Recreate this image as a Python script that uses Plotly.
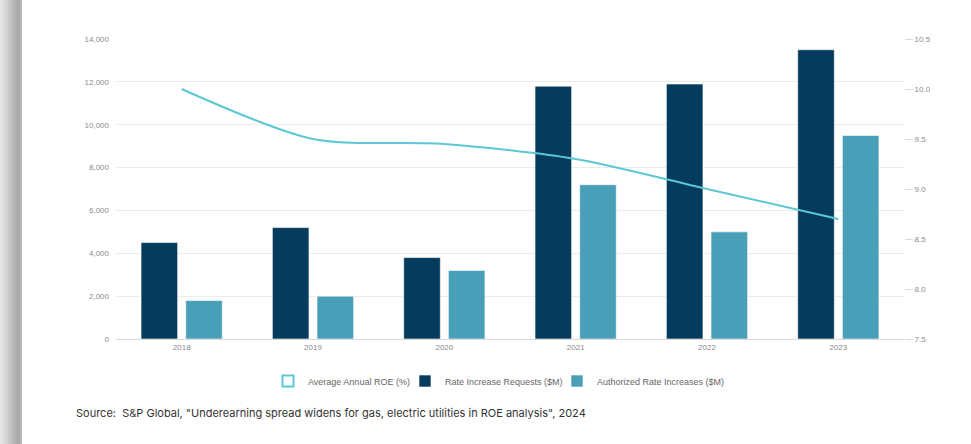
import plotly.graph_objects as go

# Data
years = ["2018", "2019", "2020", "2021", "2022", "2023"]
rate_requests = [4500, 5200, 3800, 11800, 11900, 13500]      # $M
authorized_increases = [1800, 2000, 3200, 7200, 5000, 9500]  # $M
avg_roe = [10.0, 9.5, 9.45, 9.3, 9.0, 8.7]                   # %

left_ticks = [0, 2000, 4000, 6000, 8000, 10000, 12000, 14000]
right_ticks = [7.5, 8.0, 8.5, 9.0, 9.5, 10.0, 10.5]

W, H = 971, 444
ML, MR, MT, MB = 116, 67, 39, 105
PW, PH = W - ML - MR, H - MT - MB


def px_x(p):
    return (p - ML) / PW


def px_y(p):
    return (H - MB - p) / PH


DARK = "#053b5c"
LIGHT = "#4a9fb8"
CYAN = "#5cc7d5"
TICK_FONT = dict(family="Liberation Sans, Arial, sans-serif", size=8, color="#8a8a8a")
LEGEND_FONT = dict(family="Liberation Sans, Arial, sans-serif", size=9, color="#666666")

fig = go.Figure()

fig.add_trace(go.Bar(
    x=years, y=rate_requests, name="Rate Increase Requests ($M)",
    marker=dict(color=DARK, line=dict(color="rgba(255,255,255,0.6)", width=1)),
    legend="legend2",
))
fig.add_trace(go.Bar(
    x=years, y=authorized_increases, name="Authorized Rate Increases ($M)",
    marker=dict(color=LIGHT, line=dict(color="rgba(255,255,255,0.6)", width=1)),
    legend="legend3",
))
fig.add_trace(go.Scatter(
    x=years, y=avg_roe, yaxis="y2", mode="lines",
    line=dict(color=CYAN, width=2, shape="spline", smoothing=0.8),
    showlegend=False, name="Average Annual ROE (%)",
))
# legend key for the ROE line, drawn as an open square
fig.add_trace(go.Scatter(
    x=[None], y=[None], yaxis="y2", mode="markers",
    marker=dict(symbol="square-open", size=11, color=CYAN, line=dict(width=2)),
    name="Average Annual ROE (%)", legend="legend",
))

# shaded strip along the left edge
shapes = []
grays = ["#e6e6e6", "#e0e0e0", "#d9d9d9", "#d2d2d2", "#cacaca", "#c2c2c2",
         "#bababa", "#b3b3b3", "#adadad", "#a9a9a9", "#b8b8b8"]
for i, g in enumerate(grays):
    shapes.append(dict(
        type="rect", xref="paper", yref="paper",
        x0=px_x(i * 2), x1=px_x(i * 2 + 2), y0=px_y(H), y1=px_y(0),
        fillcolor=g, line=dict(width=0), layer="below",
    ))


def legend_at(left_px):
    return dict(
        orientation="h", x=px_x(left_px), xanchor="left",
        y=px_y(381), yanchor="middle", font=LEGEND_FONT,
        itemwidth=30, bgcolor="rgba(0,0,0,0)",
    )


fig.update_layout(
    width=W, height=H,
    margin=dict(l=ML, r=MR, t=MT, b=MB),
    paper_bgcolor="white", plot_bgcolor="white",
    barmode="group", bargap=0.32, bargroupgap=0.18,
    font=dict(family="Liberation Sans, Arial, sans-serif"),
    shapes=shapes,
    xaxis=dict(
        type="category", showgrid=False, showline=True, linecolor="#d9d9d9",
        linewidth=1, ticks="", tickfont=TICK_FONT, range=[-0.5, 5.5],
    ),
    yaxis=dict(
        range=[0, 14000], tickvals=left_ticks, tickformat=",",
        showgrid=True, gridcolor="#ececec", gridwidth=1, zeroline=False,
        showline=False, tickfont=TICK_FONT, ticklabelstandoff=6,
    ),
    yaxis2=dict(
        overlaying="y", side="right", range=[7.5, 10.5], tickvals=right_ticks,
        tickformat=".1f", showgrid=False, zeroline=False, showline=False,
        ticks="outside", ticklen=8, tickcolor="#dcdcdc", tickfont=TICK_FONT,
    ),
    legend=legend_at(268),
    legend2=legend_at(405),
    legend3=legend_at(557),
    annotations=[dict(
        xref="paper", yref="paper", x=px_x(74), y=px_y(413),
        xanchor="left", yanchor="middle", showarrow=False,
        text='Source:  S&P Global, "Underearning spread widens for gas, electric utilities in ROE analysis", 2024',
        font=dict(family="Inter, Noto Sans, sans-serif", size=11, color="#333333"),
    )],
)

fig.write_html("out.html")
